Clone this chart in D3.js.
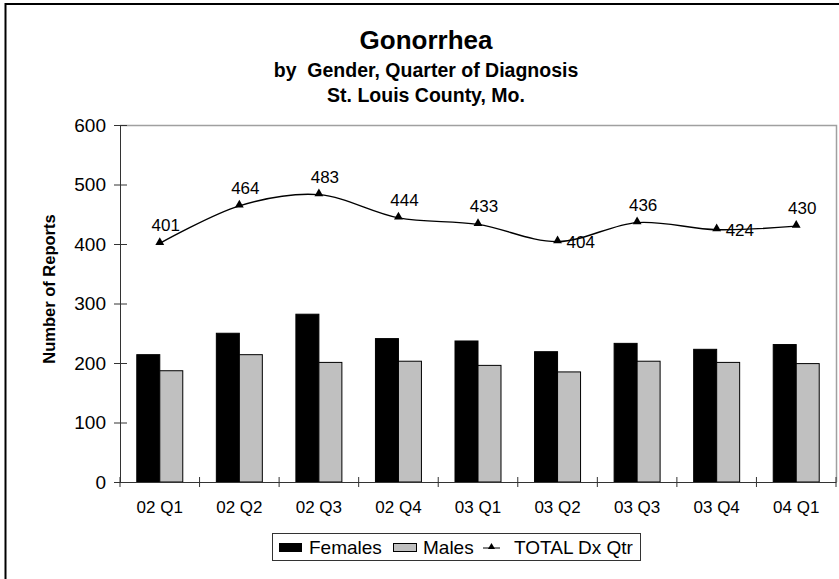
<!DOCTYPE html>
<html>
<head>
<meta charset="utf-8">
<script src="https://cdn.jsdelivr.net/npm/d3@7"></script>
<style>
body { margin: 0; background: #fff; }
text { font-family: Arial, "Liberation Sans", sans-serif; }
</style>
</head>
<body>
<script>
// data
var quarters = ["02 Q1", "02 Q2", "02 Q3", "02 Q4", "03 Q1", "03 Q2", "03 Q3", "03 Q4", "04 Q1"];
var females = [214, 250, 282, 241, 237, 219, 233, 223, 231];
var males = [187, 214, 201, 203, 196, 185, 203, 201, 199];
var totals = [401, 464, 483, 444, 433, 404, 436, 424, 430];
var yTicks = [0, 100, 200, 300, 400, 500, 600];
// labels placed right of the point instead of above
var sideLabels = ["03 Q2", "03 Q4"];

var width = 839, height = 579;
var plot = {left: 120, right: 836, top: 125, bottom: 482};
var font = "Arial, 'Liberation Sans', sans-serif";

var svg = d3.select("body").append("svg")
    .attr("width", width)
    .attr("height", height);

// chart frame (only left and top fall inside the picture)
svg.append("rect")
    .attr("x", 5.5).attr("y", 4)
    .attr("width", 860).attr("height", 600)
    .attr("fill", "none").attr("stroke", "#000").attr("stroke-width", 2);

var x = d3.scaleBand().domain(quarters).range([plot.left, plot.right]);
var y = d3.scaleLinear().domain([0, 600]).range([plot.bottom, plot.top]);
var sub = d3.scaleBand().domain(["f", "m"]).range([0, x.bandwidth()]).paddingOuter(0.73);

// plot area border (top + right)
svg.append("path")
    .attr("d", "M" + plot.left + "," + (plot.top + 0.5) + "H" + (plot.right + 0.5) + "V" + plot.bottom)
    .attr("fill", "none").attr("stroke", "#a0a0a0").attr("stroke-width", 1.5);

// bars
var groups = svg.append("g").selectAll("g")
    .data(quarters)
    .enter().append("g")
    .attr("transform", function(d) { return "translate(" + x(d) + ",0)"; });

groups.append("rect")
    .attr("x", sub("f"))
    .attr("y", function(d, i) { return y(females[i]); })
    .attr("width", sub.bandwidth())
    .attr("height", function(d, i) { return y(0) - y(females[i]); })
    .attr("fill", "#000").attr("stroke", "#000");

groups.append("rect")
    .attr("x", sub("m"))
    .attr("y", function(d, i) { return y(males[i]); })
    .attr("width", sub.bandwidth())
    .attr("height", function(d, i) { return y(0) - y(males[i]); })
    .attr("fill", "#c0c0c0").attr("stroke", "#000").attr("stroke-width", 1);

// y axis
var yAxis = svg.append("g")
    .attr("transform", "translate(" + plot.left + ",0)")
    .call(d3.axisLeft(y).tickValues(yTicks).tickSize(6).tickSizeOuter(0));
yAxis.select(".domain").attr("stroke", "#333");
yAxis.selectAll(".tick line").attr("x1", -6).attr("x2", 7).attr("stroke", "#333");
yAxis.selectAll("text").attr("x", -14).attr("font-size", 19).attr("fill", "#000")
    .attr("font-family", font);

// x axis
var xAxis = svg.append("g")
    .attr("transform", "translate(0," + plot.bottom + ")")
    .call(d3.axisBottom(x).tickSize(0).tickSizeOuter(0));
xAxis.select(".domain").attr("stroke", "#333");
xAxis.selectAll("text").attr("y", 31).attr("dy", 0).attr("font-size", 17).attr("fill", "#000")
    .attr("font-family", font);
// category separator ticks
xAxis.selectAll(".sep")
    .data(quarters.concat(["end"]))
    .enter().append("line")
    .attr("x1", function(d, i) { return plot.left + i * x.step(); })
    .attr("x2", function(d, i) { return plot.left + i * x.step(); })
    .attr("y1", -5).attr("y2", 5)
    .attr("stroke", "#333");

// total line (smoothed)
var cx = function(d, i) { return x(quarters[i]) + x.bandwidth() / 2; };
var line = d3.line()
    .x(cx)
    .y(function(d) { return y(d); })
    .curve(d3.curveCardinal.tension(0));

svg.append("path")
    .datum(totals)
    .attr("d", line)
    .attr("fill", "none").attr("stroke", "#000").attr("stroke-width", 1.4);

var tri = d3.symbol().type(d3.symbolTriangle).size(34);
svg.append("g").selectAll("path")
    .data(totals)
    .enter().append("path")
    .attr("d", tri)
    .attr("transform", function(d, i) { return "translate(" + cx(d, i) + "," + (y(d) - 1) + ")"; })
    .attr("fill", "#000");

var isSide = function(i) { return sideLabels.indexOf(quarters[i]) >= 0; };
svg.append("g").selectAll("text")
    .data(totals)
    .enter().append("text")
    .attr("x", function(d, i) { return isSide(i) ? cx(d, i) + 9 : cx(d, i) + 6; })
    .attr("y", function(d, i) { return isSide(i) ? y(d) + 6 : y(d) - 12; })
    .attr("text-anchor", function(d, i) { return isSide(i) ? "start" : "middle"; })
    .attr("font-size", 17)
    .text(function(d) { return d; });

// titles
svg.append("text").attr("x", 426).attr("y", 49).attr("text-anchor", "middle")
    .attr("font-size", 26).attr("font-weight", "bold").text("Gonorrhea");
svg.append("text").attr("x", 426).attr("y", 77).attr("text-anchor", "middle")
    .attr("font-size", 19.5).attr("font-weight", "bold").attr("xml:space", "preserve")
    .text("by  Gender, Quarter of Diagnosis");
svg.append("text").attr("x", 426).attr("y", 102).attr("text-anchor", "middle")
    .attr("font-size", 19.5).attr("font-weight", "bold").text("St. Louis County, Mo.");

svg.append("text")
    .attr("transform", "translate(55,289) rotate(-90)")
    .attr("text-anchor", "middle")
    .attr("font-size", 16.5).attr("font-weight", "bold")
    .text("Number of Reports");

// legend
var lg = svg.append("g").attr("transform", "translate(272,533)");
lg.append("rect").attr("x", 0.5).attr("y", 0.5).attr("width", 368).attr("height", 27)
    .attr("fill", "#fff").attr("stroke", "#333");
lg.append("rect").attr("x", 7).attr("y", 10).attr("width", 23).attr("height", 9).attr("fill", "#000");
lg.append("text").attr("x", 37).attr("y", 21).attr("font-size", 19).text("Females");
lg.append("rect").attr("x", 121.5).attr("y", 10.5).attr("width", 23).attr("height", 8)
    .attr("fill", "#c0c0c0").attr("stroke", "#000");
lg.append("text").attr("x", 151).attr("y", 21).attr("font-size", 19).text("Males");
lg.append("line").attr("x1", 211).attr("x2", 228).attr("y1", 15).attr("y2", 15).attr("stroke", "#000");
lg.append("path").attr("d", d3.symbol().type(d3.symbolTriangle).size(22))
    .attr("transform", "translate(219.5,14)").attr("fill", "#000");
lg.append("text").attr("x", 242).attr("y", 21).attr("font-size", 19).text("TOTAL Dx Qtr");
</script>
</body>
</html>
